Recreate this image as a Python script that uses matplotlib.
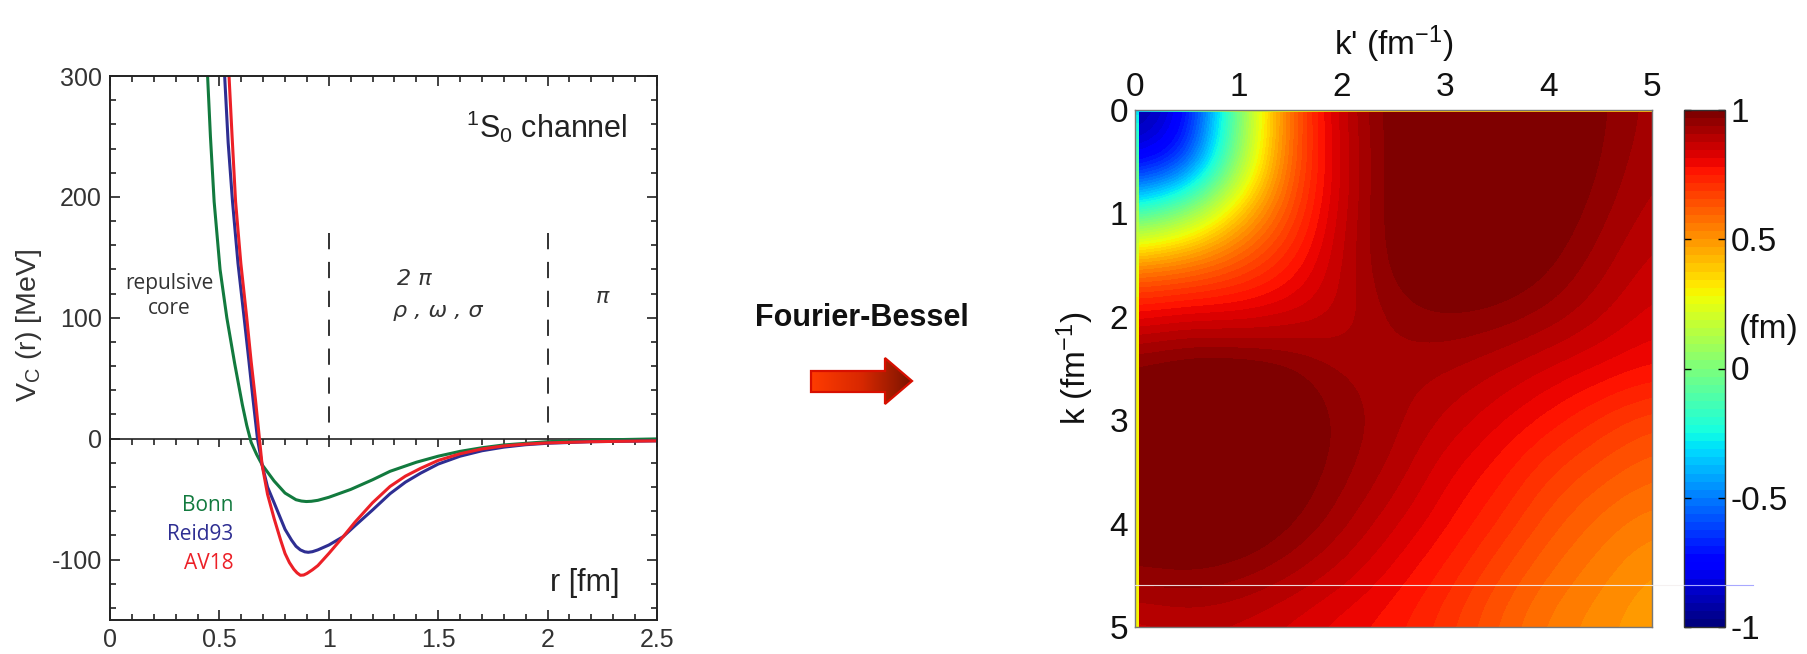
import numpy as np
import matplotlib
matplotlib.use("Agg")
import matplotlib.pyplot as plt
from matplotlib.patches import Polygon
from matplotlib.colors import LinearSegmentedColormap
from matplotlib.ticker import MultipleLocator, FormatStrFormatter

plt.rcParams['font.family'] = ['Liberation Sans', 'DejaVu Sans']
plt.rcParams['axes.unicode_minus'] = False
plt.rcParams['mathtext.fontset'] = 'custom'
plt.rcParams['mathtext.rm'] = 'Liberation Sans'
plt.rcParams['mathtext.it'] = 'Liberation Sans:italic'
plt.rcParams['mathtext.default'] = 'regular'

# 1S0 central potentials in r space (MeV)
r_bonn = [0.433, 0.446, 0.459, 0.476, 0.503, 0.534, 0.57, 0.605, 0.625, 0.645, 0.67,
          0.695, 0.75, 0.80, 0.85, 0.875, 0.897, 0.92, 0.95, 1.0, 1.1, 1.2, 1.28, 1.4,
          1.5, 1.6, 1.7, 1.8, 2.0, 2.2, 2.5]
v_bonn = [360, 300, 250, 196, 140, 100, 62, 28, 11, -3, -13,
          -21.5, -35, -45, -50.5, -51.6, -52, -51.8, -51, -48.5, -42, -34, -27, -19.5,
          -14.5, -10.5, -7.5, -5.2, -2.5, -1.2, -0.2]

r_reid = [0.51, 0.524, 0.54, 0.56, 0.585, 0.613, 0.635, 0.654, 0.674, 0.695, 0.72,
          0.75, 0.80, 0.83, 0.85, 0.87, 0.89, 0.906, 0.925, 0.95, 1.0, 1.066, 1.12,
          1.2, 1.28, 1.35, 1.42, 1.5, 1.6, 1.7, 1.8, 1.9, 2.0, 2.2, 2.5]
v_reid = [345, 300, 245, 196, 145, 100, 64, 32, 0, -21.5, -40,
          -53, -75, -84, -89, -92, -93.6, -94, -93.5, -92, -88, -81, -72,
          -59, -45.5, -36, -28.5, -21, -14.5, -10, -7, -5, -3.8, -2.5, -1.8]

r_av18 = [0.53, 0.544, 0.558, 0.574, 0.598, 0.625, 0.645, 0.665, 0.683, 0.695, 0.72,
          0.75, 0.78, 0.80, 0.82, 0.84, 0.855, 0.87, 0.885, 0.90, 0.925, 0.95, 1.0,
          1.066, 1.12, 1.2, 1.28, 1.35, 1.42, 1.5, 1.6, 1.7, 1.8, 1.9, 2.0, 2.2, 2.5]
v_av18 = [345, 300, 250, 196, 145, 100, 64, 32, 0, -21.5, -46,
          -66, -84, -95, -102.5, -108, -111, -113, -112.8, -111.5, -108.5, -105, -95,
          -81, -69, -53, -39.5, -31, -24.5, -18, -12.5, -8.5, -6, -4.5, -3.5, -2.5, -1.8]

# boundaries between the core, 2-pion and 1-pion ranges
region_bounds = [1.0, 2.0]

# momentum-space matrix element V(k, k') in fm, rows k, columns k'
k_grid = [0.0, 0.5, 1.0, 1.5, 2.0, 2.5, 3.0, 3.5, 4.0, 4.5, 5.0]
v_kk = [
    [-0.95, -0.82, 0.00, 0.62, 0.88, 1.00, 1.05, 1.05, 1.03, 0.98, 0.92],
    [-0.82, -0.70, 0.05, 0.62, 0.86, 1.00, 1.06, 1.06, 1.03, 0.97, 0.91],
    [-0.15, 0.05, 0.40, 0.66, 0.87, 1.00, 1.06, 1.05, 1.01, 0.95, 0.89],
    [0.55, 0.58, 0.65, 0.75, 0.88, 0.99, 1.03, 1.02, 0.98, 0.92, 0.86],
    [0.81, 0.84, 0.83, 0.85, 0.88, 0.95, 0.97, 0.96, 0.93, 0.88, 0.83],
    [0.99, 1.02, 1.02, 0.99, 0.93, 0.92, 0.91, 0.88, 0.84, 0.81, 0.78],
    [1.02, 1.05, 1.06, 1.02, 0.96, 0.92, 0.87, 0.82, 0.77, 0.71, 0.66],
    [1.02, 1.06, 1.05, 1.01, 0.95, 0.90, 0.82, 0.77, 0.69, 0.64, 0.60],
    [1.02, 1.04, 1.03, 0.98, 0.92, 0.85, 0.79, 0.72, 0.64, 0.58, 0.54],
    [0.96, 0.97, 0.95, 0.91, 0.86, 0.80, 0.74, 0.66, 0.59, 0.54, 0.49],
    [0.85, 0.87, 0.86, 0.83, 0.79, 0.76, 0.70, 0.62, 0.55, 0.51, 0.47],
]
# values on the k = 0 and k' = 0 edges of the mesh
v_edge_top = [-0.35, -0.2, 0.15, 0.3, 0.38, 0.42, 0.42, 0.42, 0.42, 0.42, 0.42]
v_edge_left = [-0.3, -0.1, 0.1, 0.25, 0.3, 0.3, 0.3, 0.3, 0.3, 0.3, 0.3]
cbar_ticks = [-1, -0.5, 0, 0.5, 1]

W, H = 1807, 654
fig = plt.figure(figsize=(W / 100, H / 100), dpi=100)

# ---------------- left: r-space potentials ----------------
ax = fig.add_axes([110 / W, (H - 620) / H, 547 / W, 544 / H])
ax.plot(r_bonn, v_bonn, color='#127a3e', lw=2.2)
ax.plot(r_reid, v_reid, color='#2e2e92', lw=2.2)
ax.plot(r_av18, v_av18, color='#ec2027', lw=2.2)
ax.set_xlim(0, 2.5)
ax.set_ylim(-150, 300)

ax.xaxis.set_major_locator(MultipleLocator(0.5))
ax.xaxis.set_minor_locator(MultipleLocator(0.1))
ax.yaxis.set_major_locator(MultipleLocator(100))
ax.yaxis.set_minor_locator(MultipleLocator(20))
ax.xaxis.set_major_formatter(FormatStrFormatter('%g'))
ax.yaxis.set_major_formatter(FormatStrFormatter('%g'))
ax.tick_params(which='both', direction='in', top=True, right=True,
               width=1.2, color='#222222', labelcolor='#333333', labelsize=18)
ax.tick_params(which='major', length=7, pad=6)
ax.tick_params(which='minor', length=4.5)
for s in ax.spines.values():
    s.set_linewidth(1.4)
    s.set_color('#222222')

# zero line with its own ticks
zero = ax.secondary_xaxis(150 / 450)
zero.xaxis.set_major_locator(MultipleLocator(0.5))
zero.xaxis.set_minor_locator(MultipleLocator(0.1))
zero.tick_params(which='both', direction='out', labelbottom=False, labeltop=False,
                 width=1.2, color='#222222')
zero.tick_params(which='major', length=6)
zero.tick_params(which='minor', length=4)
for s in zero.spines.values():
    s.set_linewidth(1.2)
    s.set_color('#222222')

for xb in region_bounds:
    ax.plot([xb, xb], [170, 0], color='#222222', lw=1.3, dashes=(9, 7))

ax.set_ylabel(r'V$_C$ (r) [MeV]', fontsize=20.5, color='#333333')
ax.yaxis.set_label_coords(-0.12, 0.542)

note = dict(family=['Open Sans', 'DejaVu Sans'], fontsize=15, color='#333333')
ax.text(0.27, 118, 'repulsive\ncore', ha='center', va='center',
        linespacing=1.2, **note)
greek = dict(family=['DejaVu Sans'], fontstyle='italic', fontsize=16, color='#333333')
ax.text(1.39, 132, '2 π', ha='center', va='center', **greek)
ax.text(1.50, 106, 'ρ , ω , σ', ha='center', va='center', **greek)
ax.text(2.25, 117, 'π', ha='center', va='center', **greek)
ax.text(2.365, 258, r'$^1$S$_0$ channel', ha='right', va='center',
        fontsize=22, color='#222222')
ax.text(2.33, -119, 'r [fm]', ha='right', va='center', fontsize=22, color='#222222')

lab = dict(family=['Open Sans', 'DejaVu Sans'], fontsize=15, ha='right', va='center')
ax.text(0.565, -55, 'Bonn', color='#127a3e', **lab)
ax.text(0.565, -79, 'Reid93', color='#2e2e92', **lab)
ax.text(0.565, -103, 'AV18', color='#ec2027', **lab)

# ---------------- right: momentum-space matrix ----------------
jet = plt.get_cmap('jet', 64)
ax2 = fig.add_axes([1135 / W, (H - 627) / H, 517 / W, 517 / H])
half = 0.25
im = ax2.imshow(np.array(v_kk), cmap=jet, vmin=-1, vmax=1, aspect='auto',
                interpolation='bicubic',
                extent=[k_grid[0] - half, k_grid[-1] + half, k_grid[-1] + half, k_grid[0] - half])
ax2.imshow(np.array([v_edge_top]), cmap=jet, vmin=-1, vmax=1, aspect='auto',
           interpolation='bilinear',
           extent=[k_grid[0] - half, k_grid[-1] + half, 0.022, 0.0])
ax2.imshow(np.array([v_edge_left]).T, cmap=jet, vmin=-1, vmax=1, aspect='auto',
           interpolation='bilinear',
           extent=[0.0, 0.03, k_grid[-1] + half, k_grid[0] - half])
ax2.set_xlim(0, 5)
ax2.set_ylim(5, 0)
ax2.set_xticks(range(6))
ax2.set_yticks(range(6))
ax2.xaxis.tick_top()
ax2.xaxis.set_label_position('top')
ax2.tick_params(length=0, labelsize=24, pad=5, labelcolor='#111111')
ax2.set_xlabel(r"k' (fm$^{-1}$)", fontsize=24, labelpad=12, color='#111111')
ax2.set_ylabel(r"k (fm$^{-1}$)", fontsize=24, labelpad=10, color='#111111')
for s in ax2.spines.values():
    s.set_linewidth(1.0)
    s.set_color('#777777')

cax = fig.add_axes([1684 / W, (H - 627) / H, 41 / W, 517 / H])
cb = fig.colorbar(im, cax=cax, ticks=cbar_ticks)
cb.ax.yaxis.set_major_formatter(FormatStrFormatter('%g'))
cb.ax.tick_params(direction='in', length=5, width=1, left=True, right=True,
                  labelsize=24, pad=4, labelcolor='#111111')
cb.outline.set_linewidth(1.0)
cb.outline.set_edgecolor('#333333')
cax.text(2.07, 0.575, '(fm)', transform=cax.transAxes, ha='center', va='center',
         fontsize=24, color='#111111')

# ---------------- overlay: transform label, arrow, scan line ----------------
ov = fig.add_axes([0, 0, 1, 1], facecolor='none')
ov.set_xlim(0, W)
ov.set_ylim(H, 0)
ov.axis('off')

ov.text(862, 318, 'Fourier-Bessel', ha='center', va='center', fontsize=22,
        fontweight='bold', color='#111111')

arrow = Polygon([(811, 371), (885, 371), (885, 358), (912, 381), (885, 404),
                 (885, 392), (811, 392)], closed=True, facecolor='none',
                edgecolor='#d80f00', lw=1.6, zorder=3)
ov.add_patch(arrow)
grad = LinearSegmentedColormap.from_list('arrow', ['#ff3c00', '#d82800', '#7a1400'])
g = ov.imshow(np.linspace(0, 1, 256)[None, :], cmap=grad, aspect='auto',
              extent=[811, 912, 404, 358], zorder=2)
g.set_clip_path(arrow)

ov.plot([1135, 1684], [585, 585], color='#f4f0f0', lw=0.8, alpha=0.9)
ov.plot([1684, 1753], [585, 585], color='#a8a8ff', lw=0.8)

fig.savefig('out.png', dpi=100)
